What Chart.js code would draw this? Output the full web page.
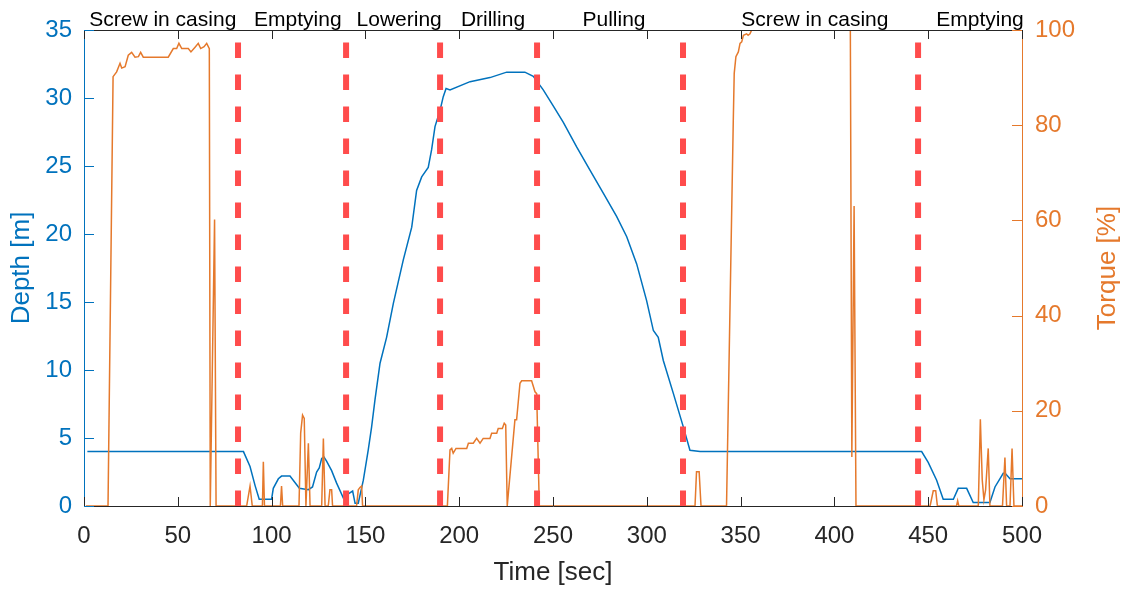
<!DOCTYPE html>
<html>
<head>
<meta charset="utf-8">
<title>Depth and torque</title>
<script src="https://cdn.jsdelivr.net/npm/chart.js@4.4.1/dist/chart.umd.min.js"></script>
<style>
  html, body { margin: 0; padding: 0; background: #fff; }
  #chart { display: block; }
</style>
</head>
<body>
<canvas id="chart" width="1126" height="590"></canvas>
<script>
// depth log [m] against time [sec]
const depthTime = [1.8, 85, 88.5, 91.2, 93.4, 100, 100.9, 103.6, 105.3, 109.8, 114.8, 119.6, 121.8, 124, 125.4,
  126.7, 127.9, 129.3, 132, 134.6, 138.2, 140.9, 143.2, 144.5, 146.2, 148.9, 151.5, 153.3, 155.1, 157.8, 161.3,
  164.9, 170.2, 174.7, 177.3, 180, 183.5, 185.3, 187.1, 189.8, 191.5, 193, 195.1, 205.8, 216.4, 225.3, 235,
  239.5, 244.8, 250.2, 255.5, 262.6, 269.7, 276.8, 283.9, 289.3, 294.6, 299.9, 303.5, 306.1, 308.8, 314.1,
  319.5, 323, 328.4, 446.5, 450, 454.5, 458, 463.4, 466, 470.5, 474, 482.9, 485.6, 490, 491, 493.6, 500];
const depthValues = [4.0, 4.0, 2.9, 1.5, 0.5, 0.5, 1.3, 2.0, 2.2, 2.2, 1.3, 1.2, 1.4, 2.5, 2.8,
  3.5, 3.6, 3.3, 2.6, 1.7, 0.6, 0.9, 1.1, 0.2, 0.2, 1.9, 4.1, 5.8, 7.8, 10.5, 12.4,
  14.9, 18.1, 20.5, 23.2, 24.2, 24.9, 26.2, 27.9, 29.1, 30.1, 30.7, 30.6, 31.2, 31.5, 31.9, 31.9,
  31.6, 30.6, 29.4, 28.2, 26.4, 24.7, 23.0, 21.3, 19.8, 17.8, 15.1, 12.9, 12.4, 10.7, 8.3,
  5.8, 4.1, 4.0, 4.0, 3.2, 1.9, 0.5, 0.5, 1.3, 1.3, 0.25, 0.25, 1.4, 2.4, 2.4, 2.0, 2.0];

// torque log [%] against time [sec]
const torqueTime = [1, 12.8, 15.5, 17.4, 19.2, 20.1, 21.9, 23.6, 25.4, 27.2, 29, 30.2, 31.6, 44.9, 47.6, 49.4,
  50.6, 52.1, 55.6, 57, 59.2, 60.9, 62.2, 64, 65.4, 66.8, 67.3, 67.6, 69.6, 70.4,
  86.7, 88.5, 89.7, 95.1, 95.6, 96.2, 104.7, 105.3, 105.9, 114.6, 115.5, 116.5, 117.4, 118.3, 119.6, 120.5,
  126.7, 127.6, 128.5, 130.2, 131.1, 132, 132.5, 145.3, 146.2, 147.1, 148, 148.5,
  193.7, 195.1, 196, 196.8, 198.3, 204, 204.9, 207.5, 209.3, 211.1, 212.8, 216.4, 217.3, 220, 220.8, 223,
  224, 224.8, 225.6, 229.7, 230.6, 232.4, 233.3, 238.6, 240.4, 241.3, 242.7,
  325.7, 326.5, 327.9, 328.9, 342.5, 346.1, 346.6, 347.5, 348.8, 349.7, 350.6, 351.5, 353.2, 354, 355, 355.9,
  408.5, 409.3, 410.5, 411.5, 451, 452.7, 454, 454.9, 465.1, 465.7, 466.3,
  476.7, 477.8, 478.8, 479.7, 480.6, 482, 482.9, 489.6, 490.9, 491.8, 493.6, 494.7, 495.7, 500];
const torqueValues = [0, 0, 90.2, 91.2, 93, 92, 92.3, 94.7, 95.3, 94.3, 94.4, 95.3, 94.3, 94.3, 96.1, 96.1,
  97.2, 96.1, 96.1, 95.4, 96.4, 97.2, 96.1, 96.5, 97.2, 96.1, 0, 0, 60.2, 0,
  0, 4.2, 0, 0, 9.3, 0, 0, 4.2, 0, 0, 15.3, 19.1, 18.4, 0, 13.2, 0,
  0, 14.2, 0, 0, 3.4, 3.4, 0, 0, 3.4, 3.9, 4.2, 0,
  0, 11.8, 12.1, 11.1, 12.1, 12.1, 13.2, 13.2, 14.2, 13.2, 14.2, 14.2, 15.3, 15.3, 16.3, 16.3,
  17.4, 17, 0, 18.1, 18.1, 25.8, 26.3, 26.3, 24, 23.6, 0,
  0, 7.2, 7.2, 0, 0, 81, 90.9, 94.4, 95.4, 97.2, 97.5, 98.9, 99.2, 98.9, 99.2, 100,
  100, 10.3, 63, 0, 0, 3.2, 3.2, 0, 0, 1.1, 0,
  0, 18.2, 5.5, 1.3, 3.4, 12.1, 0, 0, 10.2, 0, 0, 12.1, 0, 0];

// phase boundaries and names
const phaseBounds = [82.1, 139.7, 189.8, 241.5, 319.3, 444.6];
const phaseNames = ['Screw in casing', 'Emptying', 'Lowering', 'Drilling', 'Pulling', 'Screw in casing', 'Emptying'];
const phaseLabelTimes = [42, 114, 168, 218, 282.5, 389.6, 477.6];

const timeTicks = [0, 50, 100, 150, 200, 250, 300, 350, 400, 450, 500];
const depthTicks = [0, 5, 10, 15, 20, 25, 30, 35];
const torqueTicks = [0, 20, 40, 60, 80, 100];

const FONT = '"Liberation Sans", Arial, Helvetica, sans-serif';
const BLUE = '#0072BD';
const ORANGE = '#E5792C';
const RED = '#FF4C4C';
const AXIS = '#262626';

function points(xs, ys) {
  return xs.map((x, i) => ({ x, y: ys[i] }));
}

function fixedTicks(values) {
  return (scale) => {
    scale.ticks = values.map((value) => ({ value }));
  };
}

// MATLAB-like box: top edge, inward tick marks, phase captions, right label
const axesFrame = {
  id: 'axesFrame',
  afterDatasetsDraw(chart) {
    const { ctx, chartArea: a, scales } = chart;
    ctx.save();
    ctx.lineWidth = 1;
    ctx.strokeStyle = AXIS;
    ctx.beginPath();
    ctx.moveTo(a.left, a.top + 0.5);
    ctx.lineTo(a.right, a.top + 0.5);
    ctx.stroke();

    const mark = (scale, color, draw) => {
      ctx.strokeStyle = color;
      ctx.beginPath();
      scale.ticks.forEach((t) => draw(Math.round(scale.getPixelForValue(t.value)) + 0.5));
      ctx.stroke();
    };
    mark(scales.x, AXIS, (p) => {
      ctx.moveTo(p, a.bottom);
      ctx.lineTo(p, a.bottom - 9);
      ctx.moveTo(p, a.top);
      ctx.lineTo(p, a.top + 9);
    });
    mark(scales.depth, BLUE, (p) => {
      ctx.moveTo(a.left, p);
      ctx.lineTo(a.left + 10, p);
    });
    mark(scales.torque, ORANGE, (p) => {
      ctx.moveTo(a.right, p);
      ctx.lineTo(a.right - 10, p);
    });
    ctx.restore();
  },
  afterDraw(chart) {
    const { ctx, chartArea: a, scales } = chart;
    ctx.save();
    ctx.fillStyle = '#000';
    ctx.font = `21px ${FONT}`;
    ctx.textAlign = 'center';
    ctx.textBaseline = 'alphabetic';
    phaseNames.forEach((name, i) => {
      ctx.fillText(name, scales.x.getPixelForValue(phaseLabelTimes[i]), 26);
    });

    ctx.fillStyle = ORANGE;
    ctx.font = `26px ${FONT}`;
    ctx.textBaseline = 'middle';
    ctx.translate(1108, (a.top + a.bottom) / 2);
    ctx.rotate(-Math.PI / 2);
    ctx.fillText('Torque [%]', 0, 0);
    ctx.restore();
  },
};

const boundaryLines = phaseBounds.map((t) => ({
  data: [{ x: t, y: 0 }, { x: t, y: 35 }],
  yAxisID: 'depth',
  borderColor: RED,
  borderWidth: 6,
  borderDash: [15.5, 16.5],
  borderCapStyle: 'butt',
  pointRadius: 0,
  order: 1,
}));

new Chart(document.getElementById('chart'), {
  type: 'line',
  data: {
    datasets: [
      {
        label: 'Depth',
        data: points(depthTime, depthValues),
        yAxisID: 'depth',
        borderColor: BLUE,
        borderWidth: 1.5,
        pointRadius: 0,
        tension: 0,
        order: 3,
      },
      {
        label: 'Torque',
        data: points(torqueTime, torqueValues),
        yAxisID: 'torque',
        borderColor: ORANGE,
        borderWidth: 1.5,
        pointRadius: 0,
        tension: 0,
        order: 2,
      },
      ...boundaryLines,
    ],
  },
  options: {
    responsive: false,
    animation: false,
    events: [],
    layout: { padding: { top: 30, left: 0, right: 0, bottom: 0 } },
    plugins: { legend: { display: false }, tooltip: { enabled: false } },
    scales: {
      x: {
        type: 'linear',
        min: 0,
        max: 500,
        afterBuildTicks: fixedTicks(timeTicks),
        afterFit: (scale) => { scale.height = 84; },
        grid: { display: false, drawTicks: false },
        border: { display: true, color: AXIS, width: 1 },
        ticks: { color: AXIS, padding: 18, maxRotation: 0, font: { family: FONT, size: 24, lineHeight: 1 } },
        title: {
          display: true,
          text: 'Time [sec]',
          color: AXIS,
          padding: { top: 0, bottom: 4 },
          font: { family: FONT, size: 26, lineHeight: 1 },
        },
      },
      depth: {
        type: 'linear',
        position: 'left',
        min: 0,
        max: 35,
        afterBuildTicks: fixedTicks(depthTicks),
        afterFit: (scale) => { scale.width = 84; },
        grid: { display: false, drawTicks: false },
        border: { display: true, color: BLUE, width: 1 },
        ticks: { color: BLUE, padding: 12, font: { family: FONT, size: 24, lineHeight: 1 } },
        title: {
          display: true,
          text: 'Depth [m]',
          color: BLUE,
          padding: { top: 9, bottom: 0 },
          font: { family: FONT, size: 26, lineHeight: 1 },
        },
      },
      torque: {
        type: 'linear',
        position: 'right',
        min: 0,
        max: 100,
        afterBuildTicks: fixedTicks(torqueTicks),
        afterFit: (scale) => { scale.width = 104; },
        grid: { display: false, drawTicks: false },
        border: { display: true, color: ORANGE, width: 1 },
        ticks: { color: ORANGE, padding: 13, font: { family: FONT, size: 24, lineHeight: 1 } },
      },
    },
  },
  plugins: [axesFrame],
});
</script>
</body>
</html>
